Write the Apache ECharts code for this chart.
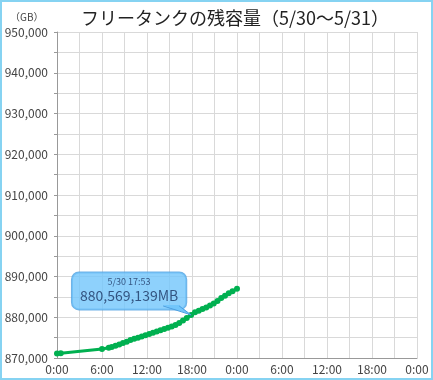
<!DOCTYPE html>
<html><head><meta charset="utf-8">
<script src="https://cdn.jsdelivr.net/npm/echarts@6/dist/echarts.min.js"></script>
<style>html,body{margin:0;padding:0;background:#fff}#c{width:433px;height:380px}</style>
</head><body><div id="c"></div>
<script>
const titleText = 'フリータンクの残容量（5/30〜5/31）';
const unitText = '（GB）';
// hours since 5/30 0:00
const hours = [0.0,0.5,6.0,6.9,7.3,7.8,8.3,8.8,9.3,9.8,10.3,10.8,11.3,11.8,12.3,12.8,13.3,13.8,14.3,14.8,15.3,15.8,16.3,16.8,17.3,17.88,18.4,18.9,19.4,19.9,20.4,20.9,21.4,21.9,22.4,22.9,23.4,24.0];
const remainGB = [871100,871150,872200,872500,872700,873000,873300,873700,874000,874400,874700,875000,875300,875600,875900,876200,876500,876800,877100,877400,877700,878100,878600,879200,879800,880569,881200,881600,882000,882400,882900,883400,884000,884700,885300,885900,886400,887000];
const calloutHour = 17.88;
const calloutGB = 880569.139;
const calloutTime = '5/30 17:53';
const calloutValue = '880,569,139MB';
const FONT = "'Noto Sans CJK JP', 'Noto Sans', sans-serif";

const chart = echarts.init(document.getElementById('c'));
const data = hours.map((h,i)=>[h, remainGB[i]]);
const baseGraphic = [
  {type:'rect',shape:{x:1,y:1,width:431,height:378},style:{fill:'none',stroke:'#86d3f2',lineWidth:2},z:200},
  {type:'text',left:10,top:12,style:{text:unitText,fontSize:10,fill:'#444',fontFamily:FONT}}
];
chart.setOption({
  animation:false,
  textStyle:{fontFamily:FONT},
  title:{text:titleText,left:76,top:4,textStyle:{fontSize:18,fontWeight:'normal',color:'#222',fontFamily:FONT}},
  grid:{left:57,right:16,top:32,bottom:22},
  xAxis:{type:'value',min:0,max:48,interval:6,
    axisLine:{lineStyle:{color:'#999'}},axisTick:{show:false},
    splitLine:{show:true,lineStyle:{color:'#d9d9d9'}},
    minorTick:{show:false,splitNumber:2},
    minorSplitLine:{show:true,lineStyle:{color:'#d9d9d9'}},
    axisLabel:{fontSize:12,color:'#444',margin:5,fontFamily:FONT,
      formatter:v=>(v%24)+':00'}},
  yAxis:{type:'value',min:870000,max:950000,interval:10000,
    axisLine:{show:true,lineStyle:{color:'#999'}},
    axisTick:{show:true,length:3,lineStyle:{color:'#999'}},
    minorTick:{show:true,splitNumber:2,length:3,lineStyle:{color:'#999'}},
    splitLine:{show:true,lineStyle:{color:'#d9d9d9'}},
    minorSplitLine:{show:true,lineStyle:{color:'#d9d9d9'}},
    axisLabel:{fontSize:12,color:'#444',margin:9,fontFamily:FONT,
      formatter:v=>v.toLocaleString('en-US')}},
  graphic:baseGraphic,
  series:[
    {type:'line',data:data,symbol:'circle',symbolSize:6,showSymbol:true,
     lineStyle:{color:'#00b050',width:3},itemStyle:{color:'#00b050'},z:3},
    {type:'scatter',data:[[calloutHour,calloutGB]],symbolSize:1,itemStyle:{color:'rgba(0,0,0,0)'},z:10,
     label:{show:true,position:'inside',offset:[-62,-24],
       backgroundColor:'#72c6fb',borderColor:'#4b9fe0',borderWidth:1,borderRadius:7,
       padding:[3,8,5,8],align:'center',verticalAlign:'middle',
       formatter:'{a|'+calloutTime+'}\n{b|'+calloutValue+'}',
       rich:{a:{fontSize:9,color:'#1c3561',align:'center',lineHeight:12,fontFamily:FONT},
             b:{fontSize:14,color:'#1c3561',align:'center',lineHeight:17,fontFamily:FONT}}}}
  ]
});
const tip = chart.convertToPixel({gridIndex:0},[calloutHour,calloutGB]);
const by = tip[1]-8.5;
chart.setOption({graphic:baseGraphic.concat([
  {type:'polygon',shape:{points:[[tip[0]-28,by-1.5],[tip[0]-12,by-1.5],[tip[0],tip[1]]]},style:{fill:'#72c6fb'},z:150},
  {type:'polyline',shape:{points:[[tip[0]-28,by-0.5],[tip[0],tip[1]],[tip[0]-12,by-0.5]]},style:{stroke:'#4b9fe0',lineWidth:1,fill:'none'},z:151}
])});
</script></body></html>
